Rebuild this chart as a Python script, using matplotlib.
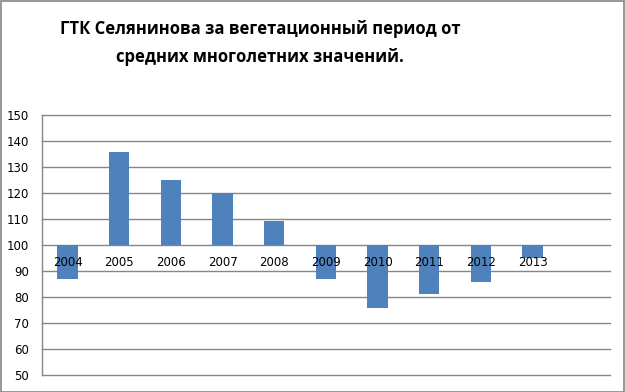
import matplotlib
matplotlib.use("Agg")
import matplotlib.pyplot as plt
from matplotlib.patches import Rectangle
from matplotlib.transforms import offset_copy

years = ["2004", "2005", "2006", "2007", "2008", "2009", "2010", "2011", "2012", "2013"]
values = [87.1, 135.8, 125.0, 119.8, 109.3, 87.1, 76.0, 81.3, 85.9, 95.0]
baseline = 100
yticks = [50, 60, 70, 80, 90, 100, 110, 120, 130, 140, 150]
title = "ГТК Селянинова за вегетационный период от\nсредних многолетних значений."

fig = plt.figure(figsize=(6.25, 3.92), dpi=100)
ax = fig.add_axes([41.7 / 625, 1 - 375.3 / 392, (610 - 41.7) / 625, (375.3 - 114.7) / 392])

x = list(range(len(years)))
heights = [v - baseline for v in values]
ax.bar(x, heights, bottom=baseline, width=0.39, color="#4F81BD", zorder=2)

ax.set_xlim(-0.5, len(years) + 0.5)
ax.set_ylim(50, 150)
ax.set_yticks(yticks)
ax.set_yticklabels([str(t) for t in yticks], fontsize=8.5, family="DejaVu Sans")
ax.yaxis.grid(True, color="#868686", linewidth=1.0)
ax.set_axisbelow(True)
for gl in ax.get_ygridlines():
    gl.set_clip_on(False)
ax.tick_params(axis="y", length=0, pad=9)

ax.set_xticks([])
ax.spines["bottom"].set_visible(False)
label_tr = offset_copy(ax.transData, fig=fig, x=0, y=-18, units="dots")
for xi, yr in zip(x, years):
    ax.text(xi, baseline, yr, transform=label_tr, ha="center", va="center",
            fontsize=8.5, family="DejaVu Sans", zorder=5)

ax.spines["top"].set_visible(False)
ax.spines["right"].set_visible(False)
ax.spines["left"].set_color("#868686")
ax.spines["left"].set_linewidth(1.0)

fig.text(260 / 625, 1 - 43 / 392, title, ha="center", va="center",
         fontsize=12, fontweight="bold", family="Open Sans", linespacing=1.75)

fig.patches.append(Rectangle((0.5 / 625, 0.5 / 392), 623.5 / 625, 390.5 / 392,
                             transform=fig.transFigure, fill=False,
                             edgecolor="#868686", linewidth=1.2))

fig.savefig("out.png", dpi=100)
